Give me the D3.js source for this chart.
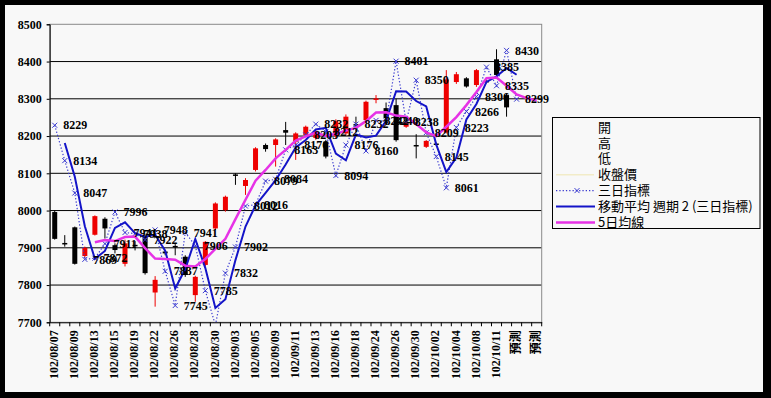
<!DOCTYPE html>
<html><head><meta charset="utf-8">
<script src="https://cdn.jsdelivr.net/npm/d3@7"></script>
<style>
html,body{margin:0;padding:0;background:#000;}
svg{display:block;}
</style></head>
<body>
<svg id="chart" width="771" height="398"></svg>
<script>
const categories = ["102/08/07","102/08/08","102/08/09","102/08/12","102/08/13","102/08/14","102/08/15","102/08/16","102/08/19","102/08/20","102/08/22","102/08/23","102/08/26","102/08/27","102/08/28","102/08/29","102/08/30","102/09/02","102/09/03","102/09/04","102/09/05","102/09/06","102/09/09","102/09/10","102/09/11","102/09/12","102/09/13","102/09/14","102/09/16","102/09/17","102/09/18","102/09/23","102/09/24","102/09/25","102/09/26","102/09/27","102/09/30","102/10/01","102/10/02","102/10/03","102/10/04","102/10/07","102/10/08","102/10/09","102/10/11","預測","預測","預測","預測"];
const openVals  = [7996,7913,7955,7878,7935,7978,7907,7857,7908,7930,7780,7890,7905,7876,7773,7854,7952,8001,8097,8066,8109,8176,8176,8216,8185,8203,8195,8185,8200,8207,8232,8243,8297,8275,8283,8225,8176,8171,8180,8210,8345,8355,8337,8348,8406,8310,null,null,null];
const highVals  = [8000,7934,7957,7903,7987,7982,7912,7922,7918,7935,7824,7894,7910,7880,7825,7918,8022,8040,8100,8087,8170,8180,8194,8238,8210,8228,8215,8190,8245,8258,8252,8295,8310,8290,8300,8240,8205,8189,8182,8377,8372,8358,8380,8350,8433,8315,null,null,null];
const lowVals   = [7922,7903,7855,7872,7933,7925,7885,7850,7893,7828,7742,7880,7880,7822,7755,7850,7948,7997,8069,8042,8105,8158,8118,8176,8136,8200,8190,8140,8195,8200,8212,8240,8288,8240,8185,8222,8140,8168,8174,8207,8340,8330,8332,8342,8360,8252,null,null,null];
const closeVals = [7924,7910,7857,7900,7985,7952,7894,7912,7905,7832,7814,7885,7902,7827,7822,7916,8019,8037,8093,8082,8167,8165,8191,8209,8207,8225,8212,8145,8240,8252,8228,8292,8301,8248,8189,8238,8172,8187,8177,8352,8366,8333,8377,8345,8364,8277,null,null,null];
const threeDay  = [8229,8134,8047,7869,7872,7911,7996,7941,7938,7922,7948,7837,7745,7941,7906,7785,7692,7832,7902,8012,8016,8079,8084,8163,8176,8203,8232,8212,8094,8176,8232,8160,8242,8240,8401,8238,8350,8209,8145,8061,8223,8266,8306,8385,8335,8430,8299,null,null];
const movAvg2   = [null,8181.5,8090.5,7958,7870.5,7891.5,7953.5,7968.5,7939.5,7930,7935,7892.5,7791,7843,7923.5,7845.5,7738.5,7762,7867,7957,8014,8047.5,8081.5,8123.5,8169.5,8189.5,8217.5,8222,8153,8135,8204,8196,8201,8241,8320.5,8319.5,8294,8279.5,8177,8103,8142,8244.5,8286,8345.5,8360,8382.5,8364.5,null,null];
const ma5       = [null,null,null,null,7915,7921,7918,7929,7930,7899,7871,7870,7868,7852,7850,7870,7897,7924,7977,8029,8080,8109,8140,8163,8188,8199,8209,8200,8206,8215,8222,8240,8263,8264,8255,8252,8232,8210,8200,8225,8251,8283,8318,8355,8357,8335,8312,8302,8295];
const yTicks = [7700,7800,7900,8000,8100,8200,8300,8400,8500];
const legendNames = ["開","高","低","收盤價","三日指標","移動平均  週期 2 (三日指標)","5日均線"];

const svg = d3.select("#chart");
const W = 771, H = 398;
svg.append("rect").attr("x",0).attr("y",0).attr("width",W).attr("height",H).attr("fill","#000");
svg.append("rect").attr("x",5).attr("y",5).attr("width",758).attr("height",387).attr("fill","#f8f8f8");

const px0 = 49.7, px1 = 541.7, py0 = 24.3, py1 = 322.3;
const x = d3.scaleBand().domain(d3.range(categories.length)).range([px0, px1]).padding(0);
const y = d3.scaleLinear().domain([7700, 8500]).range([py1, py0]);
const cx = i => x(i) + x.bandwidth()/2;
const numFont = "'Liberation Serif', 'Noto Sans CJK TC', serif";
const cjkFont = "'Noto Sans CJK TC', sans-serif";

svg.append("defs").append("clipPath").attr("id","plotclip")
  .append("rect").attr("x",px0).attr("y",py0).attr("width",px1-px0).attr("height",py1-py0);

// gridlines
svg.append("g").selectAll("line").data(yTicks.filter(v => v > 7700 && v < 8500)).join("line")
  .attr("x1",px0).attr("x2",px1).attr("y1",d=>y(d)).attr("y2",d=>y(d))
  .attr("stroke","#000").attr("stroke-width",1);
// plot border
svg.append("rect").attr("x",px0).attr("y",py0).attr("width",px1-px0).attr("height",py1-py0)
  .attr("fill","none").attr("stroke","#8a8a8a").attr("stroke-width",1);

// y axis
const yAxis = svg.append("g").attr("transform",`translate(${px0},0)`)
  .call(d3.axisLeft(y).tickValues(yTicks).tickSize(3).tickPadding(5).tickFormat(d3.format("d")));
yAxis.select(".domain").attr("stroke","#000");
yAxis.selectAll("line").attr("stroke","#000");
yAxis.selectAll("text").attr("font-family",numFont).attr("font-size",12).attr("font-weight","bold").attr("fill","#000");

// x axis
const xAxis = svg.append("g").attr("transform",`translate(0,${py1})`)
  .call(d3.axisBottom(x).tickValues(d3.range(0,categories.length,2)).tickSize(0).tickFormat(i => categories[i]));
xAxis.select(".domain").attr("stroke","#000");
xAxis.selectAll("text").attr("font-family",numFont).attr("font-size",12).attr("font-weight","bold").attr("fill","#000")
  .attr("transform","rotate(-90)").attr("text-anchor","end").attr("x",-8).attr("y",-1).attr("dy","0.35em");
// boundary ticks
svg.append("g").selectAll("line").data(d3.range(categories.length+1)).join("line")
  .attr("x1",i => px0 + i*x.step()).attr("x2",i => px0 + i*x.step())
  .attr("y1",py1).attr("y2",py1+4).attr("stroke","#000");

// candles
const candleIdx = d3.range(categories.length).filter(i => openVals[i] != null);
const cg = svg.append("g");
const colorOf = i => closeVals[i] >= openVals[i] ? "#ee0000" : "#000";
cg.selectAll("line").data(candleIdx).join("line")
  .attr("x1",i=>cx(i)).attr("x2",i=>cx(i)).attr("y1",i=>y(highVals[i])).attr("y2",i=>y(lowVals[i]))
  .attr("stroke",colorOf).attr("stroke-width",1);
cg.selectAll("rect").data(candleIdx).join("rect")
  .attr("x",i=>cx(i)-2.5).attr("width",5)
  .attr("y",i=>y(Math.max(openVals[i],closeVals[i])))
  .attr("height",i=>Math.max(1.5, Math.abs(y(openVals[i])-y(closeVals[i]))))
  .attr("fill",colorOf);

const plot = svg.append("g").attr("clip-path","url(#plotclip)");
const blueDot = "#3a3ad0";
// 三日指標 dotted line
const td = d3.range(categories.length).filter(i => threeDay[i] != null);
plot.append("path").datum(td)
  .attr("d", d3.line().x(i=>cx(i)).y(i=>y(threeDay[i])))
  .attr("fill","none").attr("stroke",blueDot).attr("stroke-width",1.2).attr("stroke-dasharray","1.3,2");
plot.append("g").selectAll("path").data(td).join("path")
  .attr("d", i => { const X=cx(i), Y=y(threeDay[i]); return `M${X-2.5},${Y-2.5}L${X+2.5},${Y+2.5}M${X-2.5},${Y+2.5}L${X+2.5},${Y-2.5}`; })
  .attr("stroke",blueDot).attr("stroke-width",1).attr("fill","none");

// moving average trendline
const ma2i = d3.range(categories.length).filter(i => movAvg2[i] != null);
plot.append("path").datum(ma2i)
  .attr("d", d3.line().x(i=>cx(i)).y(i=>y(movAvg2[i])))
  .attr("fill","none").attr("stroke","#1414c8").attr("stroke-width",2);

// 5日均線
const ma5i = d3.range(categories.length).filter(i => ma5[i] != null);
plot.append("path").datum(ma5i)
  .attr("d", d3.line().x(i=>cx(i)).y(i=>y(ma5[i])))
  .attr("fill","none").attr("stroke","#e632e6").attr("stroke-width",2.5);

// labels
svg.append("g").selectAll("text").data(td.filter(i => threeDay[i] >= 7700)).join("text")
  .attr("x", i => cx(i)+8.5).attr("y", i => y(threeDay[i])).attr("dy","0.35em")
  .attr("font-family",numFont).attr("font-size",12).attr("font-weight","bold").attr("fill","#000")
  .text(i => threeDay[i]);

// legend
const lg = svg.append("g");
lg.append("rect").attr("x",552.5).attr("y",117.5).attr("width",207.5).attr("height",111)
  .attr("fill","#f8f8f8").attr("stroke","#000").attr("stroke-width",1);
const ly = k => 127 + k*15.9;
lg.selectAll("text").data(legendNames).join("text")
  .attr("x",598).attr("y",(d,k)=>ly(k)).attr("dy","0.36em")
  .attr("font-family",cjkFont).attr("font-size",13).attr("fill","#000").text(d=>d);
lg.append("line").attr("x1",556).attr("x2",594).attr("y1",ly(3)).attr("y2",ly(3)).attr("stroke","#f2ecc8").attr("stroke-width",1.5);
lg.append("line").attr("x1",556).attr("x2",594).attr("y1",ly(4)).attr("y2",ly(4)).attr("stroke",blueDot).attr("stroke-width",1.2).attr("stroke-dasharray","1.3,2");
lg.append("path").attr("d",`M${577-2.5},${ly(4)-2.5}L${577+2.5},${ly(4)+2.5}M${577-2.5},${ly(4)+2.5}L${577+2.5},${ly(4)-2.5}`).attr("stroke",blueDot).attr("fill","none");
lg.append("line").attr("x1",556).attr("x2",595).attr("y1",ly(5)).attr("y2",ly(5)).attr("stroke","#1414c8").attr("stroke-width",2);
lg.append("line").attr("x1",556).attr("x2",595).attr("y1",ly(6)).attr("y2",ly(6)).attr("stroke","#e632e6").attr("stroke-width",2.5);
</script>
</body></html>
